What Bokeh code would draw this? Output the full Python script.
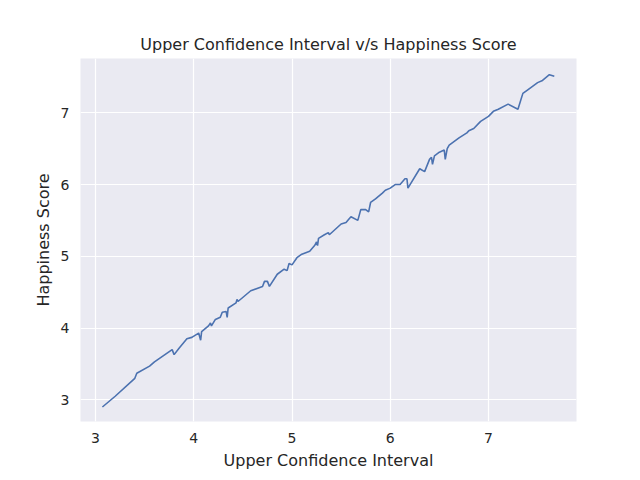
from bokeh.plotting import figure
from bokeh.models import Range1d
from bokeh.embed import file_html
from bokeh.resources import INLINE

upper_ci = [3.07, 3.2, 3.4, 3.42, 3.55, 3.6, 3.78, 3.8, 3.85, 3.93, 3.98, 4.05, 4.07, 4.08,
            4.15, 4.17, 4.18, 4.22, 4.27, 4.29, 4.33, 4.34, 4.35, 4.43, 4.44, 4.45, 4.58,
            4.7, 4.72, 4.75, 4.77, 4.85, 4.92, 4.95, 4.97, 5.0, 5.05, 5.1, 5.18, 5.23,
            5.25, 5.26, 5.27, 5.33, 5.37, 5.38, 5.5, 5.55, 5.58, 5.6, 5.67, 5.7, 5.75,
            5.78, 5.8, 5.85, 5.92, 5.95, 6.0, 6.05, 6.1, 6.15, 6.17, 6.18, 6.3, 6.35,
            6.4, 6.42, 6.43, 6.45, 6.5, 6.55, 6.56, 6.58, 6.6, 6.7, 6.78, 6.8, 6.85,
            6.92, 7.0, 7.05, 7.1, 7.2, 7.3, 7.35, 7.4, 7.5, 7.55, 7.62, 7.67]
happiness = [2.90, 3.05, 3.3, 3.37, 3.47, 3.53, 3.7, 3.63, 3.72, 3.85, 3.87, 3.93, 3.83, 3.95,
             4.03, 4.07, 4.03, 4.12, 4.15, 4.22, 4.23, 4.15, 4.28, 4.35, 4.4, 4.37, 4.52,
             4.58, 4.65, 4.65, 4.58, 4.75, 4.82, 4.8, 4.9, 4.88, 4.98, 5.03, 5.07, 5.15,
             5.2, 5.15, 5.25, 5.3, 5.33, 5.3, 5.45, 5.47, 5.52, 5.55, 5.5, 5.65, 5.65,
             5.62, 5.75, 5.8, 5.88, 5.92, 5.95, 6.0, 6.0, 6.08, 6.08, 5.95, 6.22, 6.18,
             6.35, 6.38, 6.28, 6.4, 6.45, 6.48, 6.35, 6.5, 6.55, 6.65, 6.72, 6.75, 6.78,
             6.88, 6.95, 7.02, 7.05, 7.12, 7.05, 7.27, 7.32, 7.42, 7.45, 7.53, 7.51]

p = figure(width=632, height=472, output_backend="svg", toolbar_location=None,
           title="Upper Confidence Interval v/s Happiness Score",
           x_range=Range1d(2.847, 7.896), y_range=Range1d(2.698, 7.756),
           min_border_left=80, min_border_right=56, min_border_top=58, min_border_bottom=46)

p.line(upper_ci, happiness, line_color="#4C72B0", line_width=1.6)

p.background_fill_color = "#EAEAF2"
p.border_fill_color = "white"
p.outline_line_color = None
p.title.align = "center"
p.title.text_font = "DejaVu Sans"
p.title.text_font_size = "12pt"
p.title.text_font_style = "normal"
p.title.text_color = "#262626"

for ax in (p.xaxis, p.yaxis):
    ax.axis_line_color = None
    ax.major_tick_line_color = None
    ax.minor_tick_line_color = None
    ax.major_label_text_font = "DejaVu Sans"
    ax.major_label_text_font_size = "10.5pt"
    ax.major_label_text_color = "#262626"
    ax.axis_label_text_font = "DejaVu Sans"
    ax.axis_label_text_font_size = "12pt"
    ax.axis_label_text_font_style = "normal"
    ax.axis_label_text_color = "#262626"

p.xaxis.axis_label = "Upper Confidence Interval"
p.yaxis.axis_label = "Happiness Score"
p.xaxis.ticker = [3, 4, 5, 6, 7]
p.yaxis.ticker = [3, 4, 5, 6, 7]
p.yaxis.major_label_orientation = "horizontal"

p.grid.grid_line_color = "white"
p.grid.grid_line_width = 1.2

open("out.html", "w").write(file_html(p, INLINE))
